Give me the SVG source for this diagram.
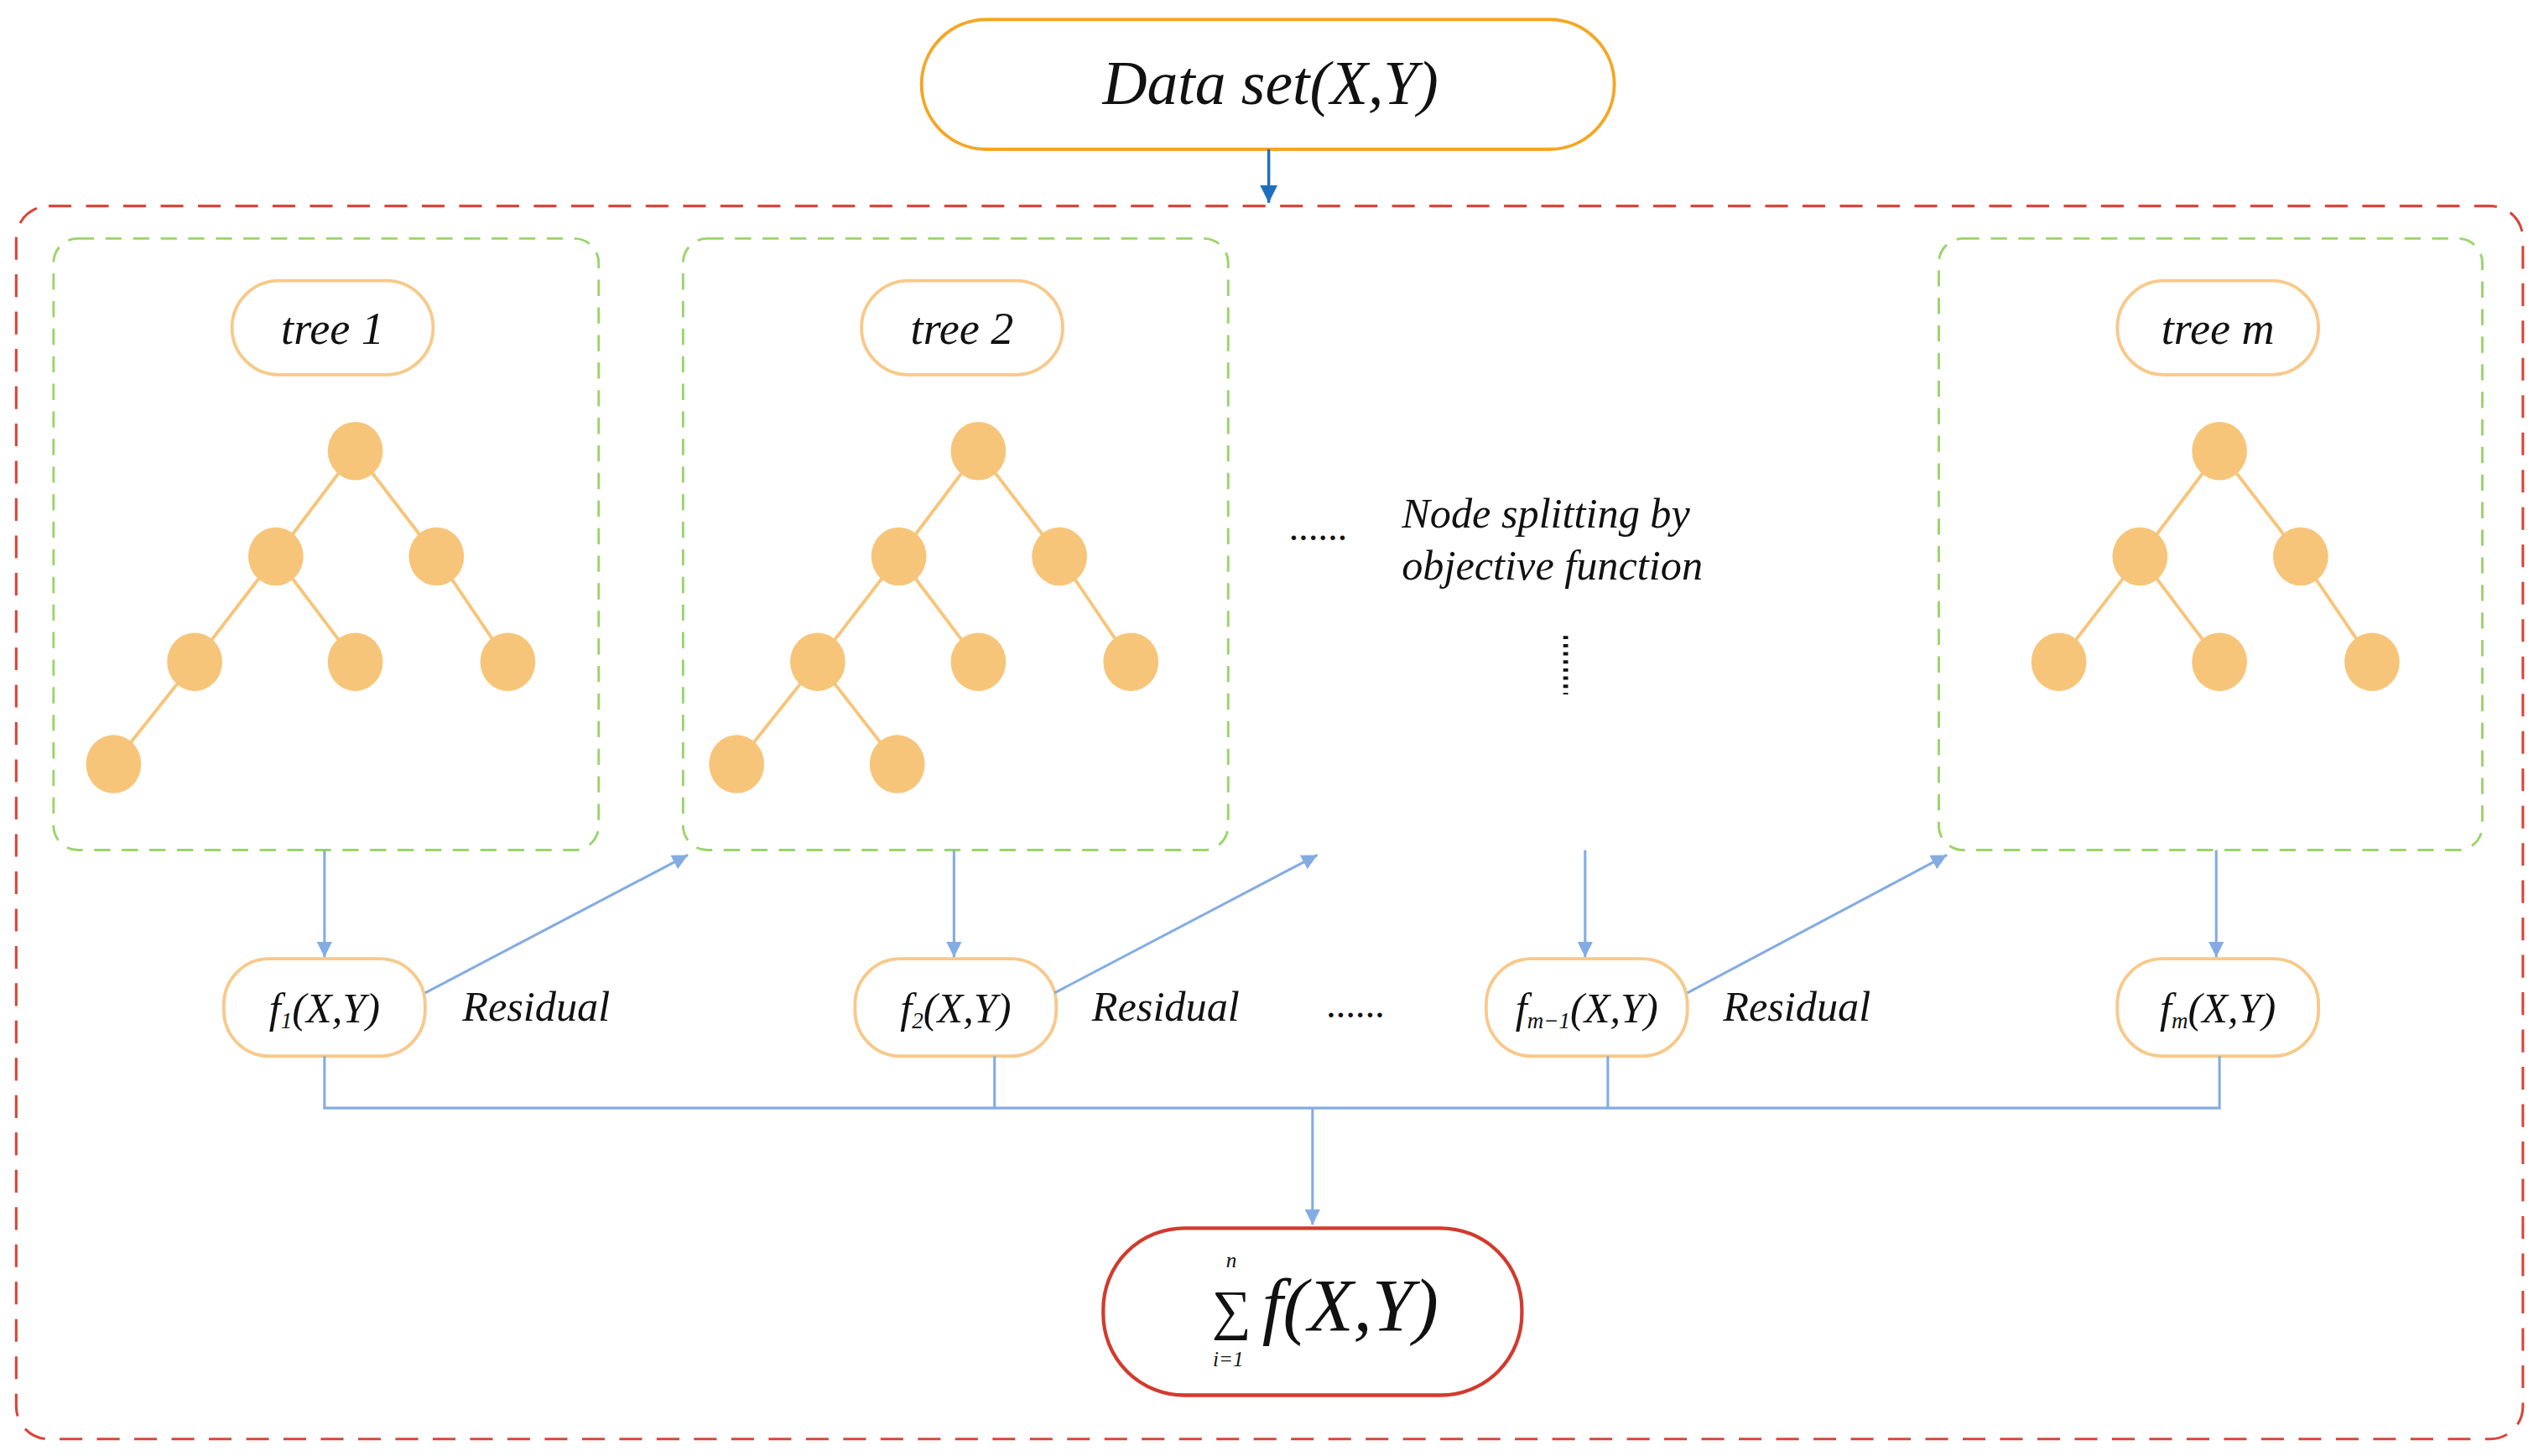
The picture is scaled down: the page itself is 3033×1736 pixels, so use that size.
<svg xmlns="http://www.w3.org/2000/svg" width="3033" height="1736" viewBox="0 0 3033 1736">
<defs>
<style>
text{font-family:"Liberation Serif","Times New Roman",serif;font-style:italic;fill:#111}
.pill{fill:#fff;stroke:#f8c98a;stroke-width:2}
.grn{fill:none;stroke:#9bd46a;stroke-width:1.5;stroke-dasharray:10 7}
.nd{fill:#f7c57a}
.ed{stroke:#f7c57a;stroke-width:2}
.cn{stroke:#84ace4;stroke-width:1.6;fill:none}
</style>
<marker id="ah" viewBox="0 0 10 10" refX="10" refY="5" markerWidth="6" markerHeight="6" orient="auto"><path d="M0,0 L10,5 L0,10 z" fill="#84ace4"/></marker>
<marker id="ah2" viewBox="0 0 10 10" refX="10" refY="5" markerWidth="6" markerHeight="6" orient="auto"><path d="M0,0 L10,5 L0,10 z" fill="#1f6fbf"/></marker>
</defs>
<rect width="3033" height="1736" fill="#fff"/>
<g transform="scale(1.9343)">
<rect id="outer" x="10" y="127" width="1545" height="760" rx="20" fill="none" stroke="#d9463a" stroke-width="1.6" stroke-dasharray="14 9"/>
<g id="dataset"><rect x="568" y="12" width="427" height="80" rx="40" fill="#fff" stroke="#f5a623" stroke-width="2"/><text x="783" y="64" font-size="38" text-anchor="middle">Data set(X,Y)</text></g>
<g id="tree1">
<rect class="grn" x="33" y="147" width="336" height="377" rx="15"/>
<rect class="pill" x="143" y="173" width="124" height="58" rx="29"/><text x="205" y="212" font-size="28" text-anchor="middle">tree 1</text>
<line class="ed" x1="219" y1="278" x2="170" y2="343"/><line class="ed" x1="219" y1="278" x2="269" y2="343"/><line class="ed" x1="170" y1="343" x2="120" y2="408"/><line class="ed" x1="170" y1="343" x2="219" y2="408"/><line class="ed" x1="269" y1="343" x2="313" y2="408"/><line class="ed" x1="120" y1="408" x2="70" y2="471"/>
<ellipse class="nd" cx="219" cy="278" rx="17" ry="18"/><ellipse class="nd" cx="170" cy="343" rx="17" ry="18"/><ellipse class="nd" cx="269" cy="343" rx="17" ry="18"/><ellipse class="nd" cx="120" cy="408" rx="17" ry="18"/><ellipse class="nd" cx="219" cy="408" rx="17" ry="18"/><ellipse class="nd" cx="313" cy="408" rx="17" ry="18"/><ellipse class="nd" cx="70" cy="471" rx="17" ry="18"/>
</g>
<g id="tree2">
<rect class="grn" x="421" y="147" width="336" height="377" rx="15"/>
<rect class="pill" x="531" y="173" width="124" height="58" rx="29"/><text x="593" y="212" font-size="28" text-anchor="middle">tree 2</text>
<line class="ed" x1="603" y1="278" x2="554" y2="343"/><line class="ed" x1="603" y1="278" x2="653" y2="343"/><line class="ed" x1="554" y1="343" x2="504" y2="408"/><line class="ed" x1="554" y1="343" x2="603" y2="408"/><line class="ed" x1="653" y1="343" x2="697" y2="408"/><line class="ed" x1="504" y1="408" x2="454" y2="471"/><line class="ed" x1="504" y1="408" x2="553" y2="471"/>
<ellipse class="nd" cx="603" cy="278" rx="17" ry="18"/><ellipse class="nd" cx="554" cy="343" rx="17" ry="18"/><ellipse class="nd" cx="653" cy="343" rx="17" ry="18"/><ellipse class="nd" cx="504" cy="408" rx="17" ry="18"/><ellipse class="nd" cx="603" cy="408" rx="17" ry="18"/><ellipse class="nd" cx="697" cy="408" rx="17" ry="18"/><ellipse class="nd" cx="454" cy="471" rx="17" ry="18"/><ellipse class="nd" cx="553" cy="471" rx="17" ry="18"/>
</g>
<g id="treem">
<rect class="grn" x="1195" y="147" width="335" height="377" rx="15"/>
<rect class="pill" x="1305" y="173" width="124" height="58" rx="29"/><text x="1367" y="212" font-size="28" text-anchor="middle">tree m</text>
<line class="ed" x1="1368" y1="278" x2="1319" y2="343"/><line class="ed" x1="1368" y1="278" x2="1418" y2="343"/><line class="ed" x1="1319" y1="343" x2="1269" y2="408"/><line class="ed" x1="1319" y1="343" x2="1368" y2="408"/><line class="ed" x1="1418" y1="343" x2="1462" y2="408"/>
<ellipse class="nd" cx="1368" cy="278" rx="17" ry="18"/><ellipse class="nd" cx="1319" cy="343" rx="17" ry="18"/><ellipse class="nd" cx="1418" cy="343" rx="17" ry="18"/><ellipse class="nd" cx="1269" cy="408" rx="17" ry="18"/><ellipse class="nd" cx="1368" cy="408" rx="17" ry="18"/><ellipse class="nd" cx="1462" cy="408" rx="17" ry="18"/>
</g>
<g id="middle">
<text x="795" y="333" font-size="24">......</text>
<text x="864" y="325" font-size="26">Node splitting by</text>
<text x="864" y="357" font-size="26">objective function</text>
<line x1="965" y1="392" x2="965" y2="428" stroke="#111" stroke-width="3" stroke-dasharray="2 3"/>
</g>
<g id="fnodes">
<rect class="pill" x="138" y="591" width="124" height="60" rx="28"/><text x="200" y="630" font-size="26" text-anchor="middle">f<tspan font-size="14" dy="4">1</tspan><tspan dy="-4">(X,Y)</tspan></text>
<rect class="pill" x="527" y="591" width="124" height="60" rx="28"/><text x="589" y="630" font-size="26" text-anchor="middle">f<tspan font-size="14" dy="4">2</tspan><tspan dy="-4">(X,Y)</tspan></text>
<rect class="pill" x="916" y="591" width="124" height="60" rx="28"/><text x="978" y="630" font-size="26" text-anchor="middle">f<tspan font-size="14" dy="4">m−1</tspan><tspan dy="-4">(X,Y)</tspan></text>
<rect class="pill" x="1305" y="591" width="124" height="60" rx="28"/><text x="1367" y="630" font-size="26" text-anchor="middle">f<tspan font-size="14" dy="4">m</tspan><tspan dy="-4">(X,Y)</tspan></text>
<text x="285" y="629" font-size="26">Residual</text><text x="673" y="629" font-size="26">Residual</text><text x="1062" y="629" font-size="26">Residual</text>
<text x="818" y="627" font-size="24">......</text>
</g>
<g id="sum"><rect x="680" y="757" width="258" height="103" rx="50" fill="#fff" stroke="#d13b2e" stroke-width="2.2"/>
<text x="759" y="781" font-size="13" text-anchor="middle">n</text>
<text x="759" y="819" font-size="34" font-style="normal" text-anchor="middle">∑</text>
<text x="757" y="842" font-size="13" text-anchor="middle">i=1</text>
<text x="778" y="820" font-size="46">f(X,Y)</text></g>
<g id="connectors">
<line x1="782" y1="92" x2="782" y2="125" stroke="#1f6fbf" stroke-width="1.8" marker-end="url(#ah2)"/>
<line class="cn" x1="200" y1="524" x2="200" y2="590" marker-end="url(#ah)"/>
<line class="cn" x1="588" y1="524" x2="588" y2="590" marker-end="url(#ah)"/>
<line class="cn" x1="977" y1="524" x2="977" y2="590" marker-end="url(#ah)"/>
<line class="cn" x1="1366" y1="524" x2="1366" y2="590" marker-end="url(#ah)"/>
<line class="cn" x1="262" y1="612" x2="424" y2="527" marker-end="url(#ah)"/>
<line class="cn" x1="650" y1="612" x2="812" y2="527" marker-end="url(#ah)"/>
<line class="cn" x1="1040" y1="612" x2="1200" y2="527" marker-end="url(#ah)"/>
<path class="cn" d="M200,651 V683 H1368 V651 M613,651 V683 M991,651 V683"/>
<line class="cn" x1="809" y1="683" x2="809" y2="755" marker-end="url(#ah)"/>
</g>
</g>
</svg>
